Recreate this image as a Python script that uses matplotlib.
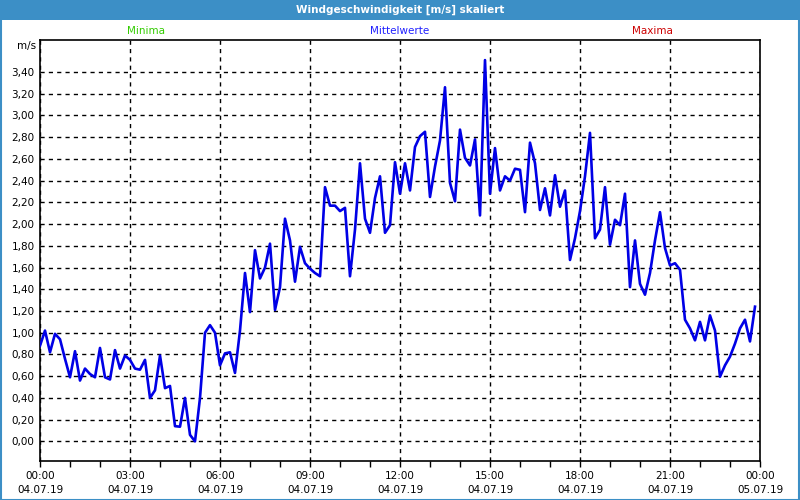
import numpy as np
import matplotlib
matplotlib.use("Agg")
import matplotlib.pyplot as plt
from matplotlib.patches import Rectangle
from matplotlib.ticker import MultipleLocator, FuncFormatter

#---------------------------------------- DATA ----------------------------------------
# Mittelwerte Windgeschwindigkeit, 10-Minuten-Werte von 00:00 bis 23:50 (m/s)
wind_mittel = [
    0.88, 1.02, 0.82, 0.99, 0.94, 0.76, 0.59, 0.83, 0.56, 0.67, 0.62, 0.59,
    0.86, 0.59, 0.57, 0.84, 0.67, 0.79, 0.75, 0.67, 0.66, 0.75, 0.40, 0.47,
    0.79, 0.49, 0.51, 0.14, 0.135, 0.40, 0.06, 0.00, 0.40, 1.00, 1.07, 1.00,
    0.70, 0.81, 0.82, 0.63, 1.02, 1.55, 1.19, 1.76, 1.50, 1.60, 1.82, 1.21,
    1.42, 2.05, 1.85, 1.47, 1.79, 1.64, 1.59, 1.55, 1.52, 2.34, 2.17, 2.17,
    2.12, 2.15, 1.52, 1.95, 2.56, 2.05, 1.92, 2.24, 2.44, 1.92, 1.99, 2.57,
    2.28, 2.56, 2.31, 2.71, 2.81, 2.85, 2.25, 2.53, 2.77, 3.26, 2.38, 2.21,
    2.87, 2.61, 2.54, 2.78, 2.08, 3.51, 2.28, 2.70, 2.31, 2.44, 2.40, 2.51,
    2.50, 2.11, 2.75, 2.56, 2.13, 2.33, 2.08, 2.45, 2.16, 2.31, 1.67, 1.87,
    2.12, 2.44, 2.84, 1.87, 1.95, 2.34, 1.81, 2.04, 1.99, 2.28, 1.42, 1.85,
    1.45, 1.35, 1.55, 1.85, 2.11, 1.78, 1.62, 1.64, 1.58, 1.12, 1.04, 0.93,
    1.10, 0.93, 1.16, 1.02, 0.595, 0.70, 0.78, 0.90, 1.04, 1.12, 0.92, 1.24,
]
# Zeitachse in Stunden (10-Minuten-Raster)
stunden = np.arange(len(wind_mittel)) / 6.0

tick_stunden = [0, 3, 6, 9, 12, 15, 18, 21, 24]
tick_uhrzeit = ["00:00", "03:00", "06:00", "09:00", "12:00", "15:00", "18:00", "21:00", "00:00"]
tick_datum = ["04.07.19"] * 8 + ["05.07.19"]

titel = "Windgeschwindigkeit [m/s] skaliert"
#--------------------------------------------------------------------------------------

plt.rcParams['font.family'] = ['DejaVu Sans']
fig = plt.figure(figsize=(8, 5), dpi=100, facecolor='white')

# Fensterrahmen + Titelleiste
rahmen_farbe = '#3c8fc6'
fig.patches.append(Rectangle((0, 0.96), 1, 0.04, transform=fig.transFigure,
                             facecolor=rahmen_farbe, edgecolor='none', zorder=0))
fig.patches.append(Rectangle((0.001, 0.001), 0.998, 0.998, transform=fig.transFigure,
                             facecolor='none', edgecolor=rahmen_farbe, linewidth=1.5, zorder=0))
fig.text(0.5, 0.98, titel, color='white', fontsize=7.5, fontweight='bold',
         ha='center', va='center')

# Legenden-Texte
fig.text(146 / 800, 1 - 31 / 500, "Minima", color='#33cc00', fontsize=7.5, ha='center', va='center')
fig.text(400 / 800, 1 - 31 / 500, "Mittelwerte", color='#2020ff', fontsize=7.5, ha='center', va='center')
fig.text(652 / 800, 1 - 31 / 500, "Maxima", color='#cc0000', fontsize=7.5, ha='center', va='center')
fig.text(36 / 800, 1 - 46 / 500, "m/s", color='black', fontsize=7.5, ha='right', va='center')

# --- Plot ---
ax = fig.add_axes([40 / 800, 1 - 460.7 / 500, 720 / 800, 420.7 / 500])
ax.plot(stunden, wind_mittel, color='#0000e6', linewidth=1.9, zorder=3)

ax.set_xlim(0, 24)
ax.set_ylim(-0.178, 3.695)

ax.set_yticks(np.arange(0, 3.41, 0.2))
ax.yaxis.set_major_formatter(FuncFormatter(lambda v, p: f"{v:.2f}".replace('.', ',')))
ax.tick_params(axis='y', length=0, pad=4, labelsize=7.5)

ax.set_xticks(tick_stunden)
ax.set_xticklabels([f"{u}\n{d}" for u, d in zip(tick_uhrzeit, tick_datum)], linespacing=1.45)
ax.xaxis.set_minor_locator(MultipleLocator(1))
ax.tick_params(axis='x', which='both', direction='out', length=4, width=1, pad=3.5, labelsize=7.5)

ax.grid(True, which='major', color='black', linestyle=(0, (3, 3)), linewidth=1)
for s in ax.spines.values():
    s.set_linewidth(1.2)
    s.set_color('black')

fig.savefig("out.png", dpi=100)
plt.close()
